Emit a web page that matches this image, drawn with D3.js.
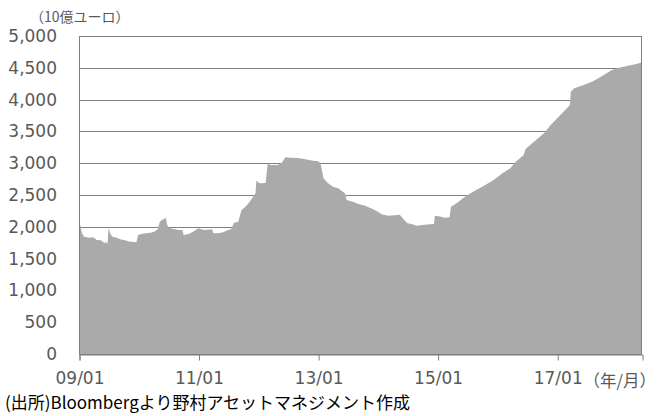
<!DOCTYPE html>
<html>
<head>
<meta charset="utf-8">
<script src="https://cdn.jsdelivr.net/npm/d3@7"></script>
<style>
  html, body { margin: 0; padding: 0; background: #fff; }
  svg { display: block; }
</style>
</head>
<body>
<svg id="chart" width="663" height="416"></svg>
<script>
// ---- data (ECB balance sheet size, 10億ユーロ) ----
const dates = [
  "2009-01-01","2009-01-10","2009-01-19","2009-02-01","2009-03-01","2009-04-01","2009-04-19","2009-05-15",
  "2009-06-06","2009-06-15","2009-06-24","2009-07-01","2009-07-10","2009-07-24","2009-08-15","2009-09-15",
  "2009-10-10","2009-11-01","2009-12-01","2009-12-18","2009-12-28","2010-01-15","2010-02-15","2010-03-15",
  "2010-04-06","2010-04-28","2010-05-10","2010-05-24","2010-06-15","2010-06-24","2010-07-03","2010-08-01",
  "2010-09-01","2010-09-24","2010-10-03","2010-11-01","2010-11-24","2010-12-15","2011-01-01","2011-01-15",
  "2011-02-01","2011-03-01","2011-03-24","2011-04-03","2011-05-01","2011-06-01","2011-07-01","2011-07-19",
  "2011-08-06","2011-09-01","2011-09-21","2011-10-15","2011-11-10","2011-12-01","2011-12-15","2011-12-21",
  "2012-01-10","2012-02-15","2012-02-28","2012-03-15","2012-05-01","2012-05-24","2012-06-15","2012-07-15",
  "2012-09-01","2012-10-15","2012-12-01","2013-01-01","2013-01-15","2013-01-24","2013-02-03","2013-03-01",
  "2013-04-01","2013-05-03","2013-06-15","2013-06-24","2013-08-01","2013-09-10","2013-10-15","2013-11-20",
  "2013-12-24","2014-01-24","2014-03-06","2014-04-15","2014-05-15","2014-06-06","2014-07-01","2014-08-01",
  "2014-08-24","2014-10-01","2014-11-15","2014-12-10","2014-12-15","2015-01-15","2015-02-15","2015-03-15",
  "2015-03-24","2015-05-01","2015-06-15","2015-08-06","2015-10-01","2015-12-10","2016-02-01","2016-03-20",
  "2016-04-20","2016-06-10","2016-06-22","2016-08-01","2016-10-12","2016-11-22","2017-01-01","2017-02-10",
  "2017-03-20","2017-03-25","2017-04-15","2017-06-12","2017-08-12","2017-10-12","2017-12-01","2018-01-03",
  "2018-03-01","2018-05-01","2018-06-03"
];
const values = [
  2055, 2018, 1897, 1845, 1830, 1830, 1792, 1790,
  1740, 1765, 1725, 1987, 1897, 1845, 1830, 1800,
  1790, 1770, 1760, 1756, 1871, 1885, 1897, 1905,
  1923, 1965, 2080, 2107, 2143, 2028, 1987, 1965,
  1950, 1950, 1871, 1885, 1913, 1950, 1976, 1965,
  1950, 1955, 1960, 1897, 1900, 1915, 1950, 1960,
  2065, 2080, 2264, 2316, 2395, 2473, 2525, 2725,
  2683, 2690, 2998, 2972, 2972, 3008, 3092, 3085,
  3080, 3061, 3040, 3030, 2998, 2893, 2762, 2690,
  2630, 2605, 2525, 2421, 2395, 2354, 2332, 2291,
  2248, 2197, 2175, 2180, 2190, 2123, 2055, 2039,
  2018, 2028, 2039, 2045, 2175, 2160, 2143, 2150,
  2316, 2380, 2470, 2552, 2630, 2736, 2841, 2920,
  3014, 3129, 3223, 3313, 3470, 3601, 3706, 3811,
  3915, 4124, 4177, 4230, 4292, 4387, 4465, 4491,
  4528, 4560, 4586
];
const yTicks = [0, 500, 1000, 1500, 2000, 2500, 3000, 3500, 4000, 4500, 5000];
const xTicks = ["2009-01-01", "2011-01-01", "2013-01-01", "2015-01-01", "2017-01-01"];
const yUnitLabel = "（10億ユーロ）";
const xUnitLabel = "（年/月）";
const sourceLabel = "(出所)Bloombergより野村アセットマネジメント作成";

// ---- drawing ----
(function () {
  const parse = d3.timeParse("%Y-%m-%d");
  const data = dates.map((d, i) => ({ date: parse(d), value: values[i] }));

  const svg = d3.select("#chart");
  const pLeft = 79, pRight = 642, pTop = 36, pBottom = 354;

  const x = d3.scaleTime()
    .domain([parse("2009-01-01"), parse("2018-06-03")])
    .range([pLeft, pRight]);
  const y = d3.scaleLinear().domain([0, 5000]).range([pBottom, pTop]);

  const gridColor = "#808080";
  const textColor = "#595959";
  const fontFamily = "'DejaVu Sans', Verdana, sans-serif";
  const jpFont = "'Noto Sans CJK JP', sans-serif";

  // gridlines
  svg.append("g")
    .selectAll("line")
    .data(yTicks.filter(t => t > 0 && t < 5000))
    .join("line")
    .attr("x1", pLeft).attr("x2", pRight)
    .attr("y1", d => Math.round(y(d)) + 0.5)
    .attr("y2", d => Math.round(y(d)) + 0.5)
    .attr("stroke", gridColor)
    .attr("stroke-width", 1);

  // area
  const area = d3.area()
    .x(d => x(d.date))
    .y0(y(0))
    .y1(d => y(d.value))
    .curve(d3.curveLinear);
  svg.append("path")
    .datum(data)
    .attr("d", area)
    .attr("fill", "#aaaaaa");

  // frame
  svg.append("rect")
    .attr("x", pLeft + 0.5).attr("y", pTop + 0.5)
    .attr("width", pRight - pLeft - 1).attr("height", pBottom - pTop)
    .attr("fill", "none")
    .attr("stroke", "#7f7f7f")
    .attr("stroke-width", 1);

  // x axis
  const xAxis = d3.axisBottom(x)
    .tickValues(xTicks.map(parse))
    .tickFormat(d3.timeFormat("%y/%m"))
    .tickSize(6)
    .tickPadding(11);
  const gx = svg.append("g")
    .attr("transform", `translate(0.5,${pBottom + 0.5})`)
    .call(xAxis);
  gx.select(".domain").attr("stroke", "#7f7f7f");
  gx.selectAll(".tick line").attr("stroke", "#7f7f7f");
  gx.selectAll(".tick text")
    .attr("fill", textColor)
    .style("font-family", fontFamily)
    .style("font-size", "17px");

  // y axis
  const yAxis = d3.axisLeft(y)
    .tickValues(yTicks)
    .tickFormat(d3.format(","))
    .tickSize(0)
    .tickPadding(22);
  const gy = svg.append("g")
    .attr("transform", `translate(${pLeft},0)`)
    .call(yAxis);
  gy.select(".domain").remove();
  gy.selectAll(".tick text")
    .attr("fill", textColor)
    .style("font-family", fontFamily)
    .style("font-size", "17px");

  // unit labels
  svg.append("text")
    .attr("x", 30).attr("y", 16)
    .attr("dominant-baseline", "central")
    .attr("fill", textColor)
    .style("font-family", jpFont)
    .style("font-size", "14px")
    .text(yUnitLabel);

  svg.append("text")
    .attr("x", 656).attr("y", 380)
    .attr("text-anchor", "end")
    .attr("dominant-baseline", "central")
    .attr("fill", textColor)
    .style("font-family", jpFont)
    .style("font-size", "16.5px")
    .text(xUnitLabel);

  svg.append("text")
    .attr("x", 5).attr("y", 401)
    .attr("dominant-baseline", "central")
    .attr("fill", "#000")
    .style("font-family", jpFont)
    .style("font-size", "17px")
    .text(sourceLabel);
})();
</script>
</body>
</html>
